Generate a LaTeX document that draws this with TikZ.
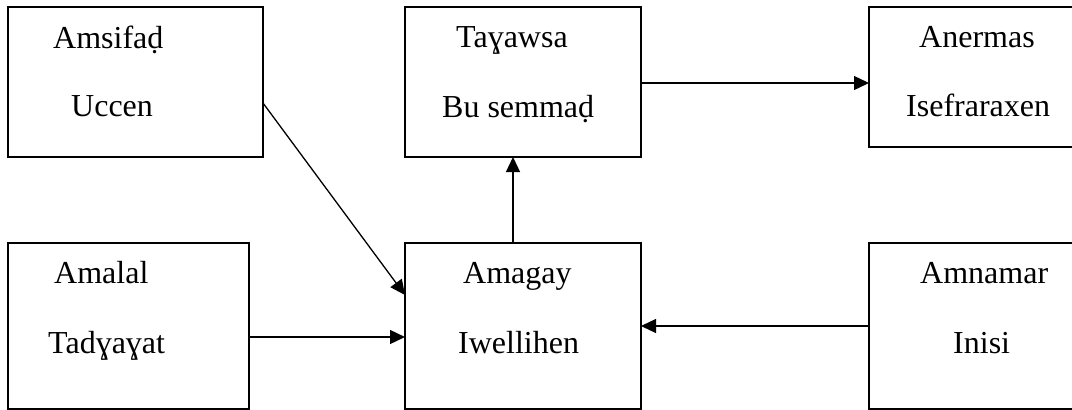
\documentclass[tikz,border=0pt]{standalone}
\usepackage{fontspec}
\setmainfont{Liberation Serif}
\usetikzlibrary{arrows.meta}
\begin{document}
\begin{tikzpicture}[x=1pt,y=-1pt,
  boxnode/.style={draw,line width=1.5pt,rectangle,inner sep=0pt,outer sep=0pt},
  lbl/.style={anchor=base west,inner sep=0pt,font=\fontsize{32}{38}\selectfont},
  conn/.style={line width=1.3pt,-{Triangle[length=15pt,width=14pt]}}]
\useasboundingbox[fill=white] (0,0) rectangle (1072,410);
\node[boxnode,minimum width=255pt,minimum height=150pt] (b1) at (135.5,82) {};
\node[boxnode,minimum width=236pt,minimum height=150pt] (b2) at (523,82) {};
\node[boxnode,minimum width=211pt,minimum height=140pt] (b3) at (974.5,77) {};
\node[boxnode,minimum width=241pt,minimum height=166pt] (b4) at (128.5,326) {};
\node[boxnode,minimum width=236pt,minimum height=166pt] (b5) at (523,326) {};
\node[boxnode,minimum width=211pt,minimum height=166pt] (b6) at (974.5,326) {};
\node[lbl] (t1a) at (53,48) {Amsifaḍ};
\node[lbl] (t1b) at (71,116) {Uccen};
\node[lbl] (t2a) at (456,47) {Taɣawsa};
\node[lbl] (t2b) at (442,117) {Bu semmaḍ};
\node[lbl] (t3a) at (919,47) {Anermas};
\node[lbl] (t3b) at (906,116) {Isefraraxen};
\node[lbl] (t4a) at (54,283) {Amalal};
\node[lbl] (t4b) at (48,353) {Tadɣaɣat};
\node[lbl] (t5a) at (463,283) {Amagay};
\node[lbl] (t5b) at (458,353) {Iwellihen};
\node[lbl] (t6a) at (920,283) {Amnamar};
\node[lbl] (t6b) at (953,353) {Inisi};
\draw[conn] ([yshift=-21pt]b1.east) -- ([yshift=31pt]b5.west);
\draw[conn] ([yshift=-11pt]b4.east) -- ([yshift=-11pt]b5.west);
\draw[conn] ([xshift=-10pt]b5.north) -- ([xshift=-10pt]b2.south);
\draw[conn] ([yshift=-1pt]b2.east) -- ([yshift=-6pt]b3.west);
\draw[conn] (b6.west) -- (b5.east);
\end{tikzpicture}
\end{document}
